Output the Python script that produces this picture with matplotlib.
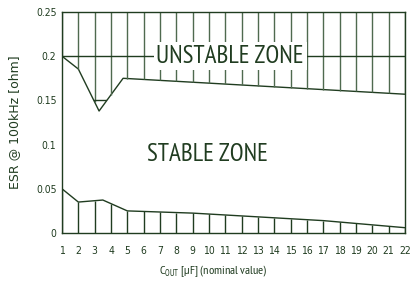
import numpy as np
import matplotlib
matplotlib.use('Agg')
import matplotlib.pyplot as plt
from matplotlib.patches import Polygon

# upper (stability limit) curve
upper_x = [1, 2, 3.27, 4.74, 22]
upper_y = [0.2, 0.1855, 0.138, 0.175, 0.157]
# lower (minimum ESR) curve
lower_x = [1, 2, 3.5, 5, 9, 17, 22]
lower_y = [0.05, 0.035, 0.0373, 0.025, 0.0225, 0.014, 0.006]

x_ticks = list(range(1, 23))
y_ticks = [0, 0.05, 0.1, 0.15, 0.2, 0.25]
y_tick_labels = ['0', '0.05', '0.1', '0.15', '0.2', '0.25']

dark = '#203c20'
grid_col = '#4f6a4f'
zone_font = 'PT Sans Narrow'

fig = plt.figure(figsize=(4.11, 2.82), dpi=100)
ax = fig.add_axes([62/411, 49/282, 343/411, 221/282])
ax.set_xlim(1, 22)
ax.set_ylim(0, 0.25)

ax.plot(upper_x, upper_y, color=dark, lw=1.0)
ax.plot(lower_x, lower_y, color=dark, lw=1.0)

# unstable zone grid, clipped above upper curve
poly = Polygon(list(zip(upper_x, upper_y)) + [(22, 0.25), (1, 0.25)],
               closed=True, transform=ax.transData, facecolor='none', edgecolor='none')
ax.add_patch(poly)
xs = np.array(x_ticks, dtype=float)
ax.vlines(xs, np.interp(xs, upper_x, upper_y), 0.25, color=grid_col, lw=1.0)
for yv in [0.15, 0.2]:
    ln = ax.axhline(yv, color=dark, lw=1.0)
    ln.set_clip_path(poly)

# stable zone lower hatch
ax.vlines(xs, 0, np.interp(xs, lower_x, lower_y), color=dark, lw=1.0)

ax.text(11.3, 0.2, 'UNSTABLE ZONE', family=zone_font, fontsize=18, color=dark,
        ha='center', va='center',
        bbox=dict(facecolor='white', edgecolor='none', pad=2))
ax.text(9.9, 0.089, 'STABLE ZONE', family=zone_font, fontsize=18, color=dark,
        ha='center', va='center')

for s in ax.spines.values():
    s.set_color(dark)
    s.set_linewidth(1.0)

ax.set_xticks(x_ticks)
ax.set_yticks(y_ticks)
ax.set_yticklabels(y_tick_labels)
ax.tick_params(length=0, labelsize=7.5, colors=dark)
ax.tick_params(axis='x', pad=9)
ax.tick_params(axis='y', pad=4)
for lab in ax.get_xticklabels() + ax.get_yticklabels():
    lab.set_fontstretch('condensed')

ax.set_xlabel(r'C$_{\mathregular{OUT}}$ [µF] (nominal value)', family=zone_font, fontsize=8.8, color=dark)
ax.xaxis.set_label_coords((213 - 62) / 343, -30 / 221)
ax.set_ylabel('ESR @ 100kHz [ohm]', fontsize=9, color=dark)
ax.yaxis.set_label_coords(-41 / 343, 0.5)

fig.savefig('out.png', dpi=100)
